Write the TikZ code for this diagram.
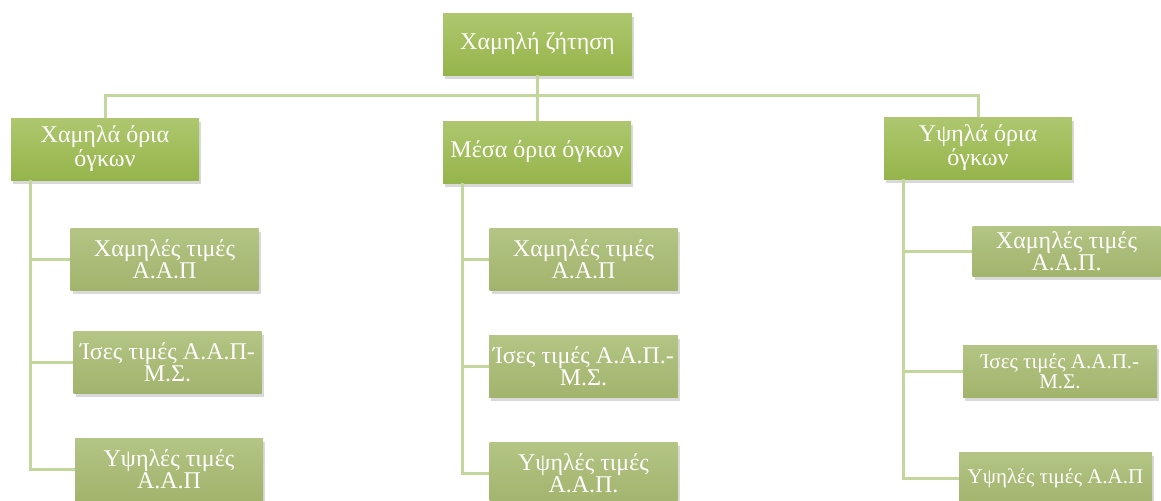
\documentclass[tikz,border=0pt]{standalone}
\usepackage{fontspec}
\setmainfont{Liberation Serif}
\usetikzlibrary{shadows}
\definecolor{zgline}{RGB}{195,214,155}
\definecolor{zgtop}{RGB}{174,199,112}
\definecolor{zgmid}{RGB}{162,190,92}
\definecolor{zgbot}{RGB}{150,180,76}
\definecolor{zgtopl}{RGB}{180,197,133}
\definecolor{zgmidl}{RGB}{170,188,120}
\definecolor{zgbotl}{RGB}{162,180,108}
\tikzstyle{conn} = [line width=1.5pt, color=zgline]
\tikzstyle{level} = [rectangle, minimum width=94pt, minimum height=31pt, inner sep=2pt, align=center, text=white, top color=zgtop, bottom color=zgbot, middle color=zgmid, font=\fontsize{12}{11}\selectfont, drop shadow={shadow xshift=1.2pt, shadow yshift=-1.8pt, opacity=0.3}]
\tikzstyle{leaf} = [level, top color=zgtopl, bottom color=zgbotl, middle color=zgmidl]
\tikzstyle{leafsmall} = [leaf, font=\fontsize{10.5}{10}\selectfont]
\begin{document}
\begin{tikzpicture}[x=0.5pt, y=-0.5pt]
\useasboundingbox (0,0) rectangle (1161,500);
% top level
\node[level, minimum width=94.5pt] (root) at (537.5,44) {Χαμηλή ζήτηση};
% volume levels
\node[level] (lowvol) at (105,149) {Χαμηλά όρια\\όγκων};
\node[level] (midvol) at (537,152) {Μέσα όρια όγκων};
\node[level] (highvol) at (978,148) {Υψηλά όρια\\όγκων};

\draw[conn] (root.south) -- ++(0,-10pt) -| (lowvol.north);
\draw[conn] (root.south) -- ++(0,-10pt) -| (midvol.north);
\draw[conn] (root.south) -- ++(0,-10pt) -| (highvol.north);

% prices, low volume
\node[leaf] (lowc1) at (164.5,259) {Χαμηλές τιμές\\Α.Α.Π};
\node[leaf] (lowc2) at (167.5,362) {Ίσες τιμές Α.Α.Π-\\Μ.Σ.};
\node[leaf] (lowc3) at (169,469) {Υψηλές τιμές\\Α.Α.Π};
% prices, middle volume
\node[leaf] (midc1) at (583.5,259) {Χαμηλές τιμές\\Α.Α.Π};
\node[leaf] (midc2) at (583.5,366.5) {Ίσες τιμές Α.Α.Π.-\\Μ.Σ.};
\node[leaf] (midc3) at (583.5,473) {Υψηλές τιμές\\Α.Α.Π.};
% prices, high volume
\node[leaf, minimum height=25pt] (highc1) at (1066.5,251) {Χαμηλές τιμές\\Α.Α.Π.};
\node[leafsmall, minimum width=97pt, minimum height=26pt] (highc2) at (1060,371) {Ίσες τιμές Α.Α.Π.-\\Μ.Σ.};
\node[leafsmall, minimum width=96.5pt, minimum height=26pt] (highc3) at (1055.5,478) {Υψηλές τιμές Α.Α.Π};

\foreach \p in {low,mid,high}
  \foreach \i in {1,2,3}
    \draw[conn] ([xshift=10pt]\p vol.south west) |- (\p c\i.west);
\end{tikzpicture}
\end{document}
